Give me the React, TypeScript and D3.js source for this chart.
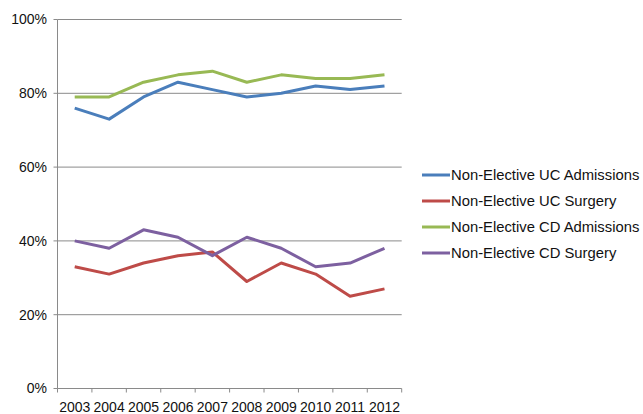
import React from "react";
import * as d3 from "d3";

const years = ["2003", "2004", "2005", "2006", "2007", "2008", "2009", "2010", "2011", "2012"];
const ucAdmissions = [76, 73, 79, 83, 81, 79, 80, 82, 81, 82];
const ucSurgery = [33, 31, 34, 36, 37, 29, 34, 31, 25, 27];
const cdAdmissions = [79, 79, 83, 85, 86, 83, 85, 84, 84, 85];
const cdSurgery = [40, 38, 43, 41, 36, 41, 38, 33, 34, 38];
const yTicks = [0, 20, 40, 60, 80, 100];

const seriesNames = [
  "Non-Elective UC Admissions",
  "Non-Elective UC Surgery",
  "Non-Elective CD Admissions",
  "Non-Elective CD Surgery",
];
const seriesValues = [ucAdmissions, ucSurgery, cdAdmissions, cdSurgery];
const colors = ["#4a7ebb", "#be4b48", "#98b954", "#7d60a0"];

export default function App() {
  const W = 643, H = 414;
  const left = 57.5, right = 401.7, top = 19.5, bottom = 388.5;
  const x = d3.scaleBand<string>().domain(years).range([left, right]);
  const y = d3.scaleLinear().domain([0, 100]).range([bottom, top]);
  const line = d3
    .line<number>()
    .x((_, i) => (x(years[i]) as number) + x.bandwidth() / 2)
    .y((d) => y(d));
  const font = "Helvetica, Arial, 'Liberation Sans', sans-serif";
  const tickXs = years.map((yr) => x(yr) as number).concat([right]);

  return (
    <svg
      width={W}
      height={H}
      style={{ position: "absolute", left: 0, top: 0, background: "#fff" }}
      fontFamily={font}
    >
      {yTicks.map((t) => (
        <g key={t}>
          <line x1={left} x2={right} y1={y(t)} y2={y(t)} stroke="#8a8a8a" strokeWidth={1} />
          <line x1={left - 4} x2={left} y1={y(t)} y2={y(t)} stroke="#8a8a8a" strokeWidth={1} />
          <text x={47} y={y(t)} dy="0.35em" textAnchor="end" fontSize={14} fill="#111">
            {t}%
          </text>
        </g>
      ))}
      <line x1={left} x2={left} y1={top} y2={bottom} stroke="#8a8a8a" strokeWidth={1} />
      {tickXs.map((tx, i) => (
        <line key={i} x1={tx} x2={tx} y1={bottom} y2={bottom + 4} stroke="#8a8a8a" strokeWidth={1} />
      ))}
      {years.map((yr) => (
        <text
          key={yr}
          x={(x(yr) as number) + x.bandwidth() / 2}
          y={412}
          textAnchor="middle"
          fontSize={14}
          fill="#111"
        >
          {yr}
        </text>
      ))}
      {seriesValues.map((vals, i) => (
        <path
          key={i}
          d={line(vals) || ""}
          fill="none"
          stroke={colors[i]}
          strokeWidth={3}
          strokeLinejoin="round"
        />
      ))}
      {seriesNames.map((name, i) => {
        const ly = 175 + i * 26;
        return (
          <g key={name}>
            <line x1={422} x2={450} y1={ly} y2={ly} stroke={colors[i]} strokeWidth={3} />
            <text x={451} y={ly} dy="0.35em" fontSize={14.8} fill="#111">
              {name}
            </text>
          </g>
        );
      })}
    </svg>
  );
}
